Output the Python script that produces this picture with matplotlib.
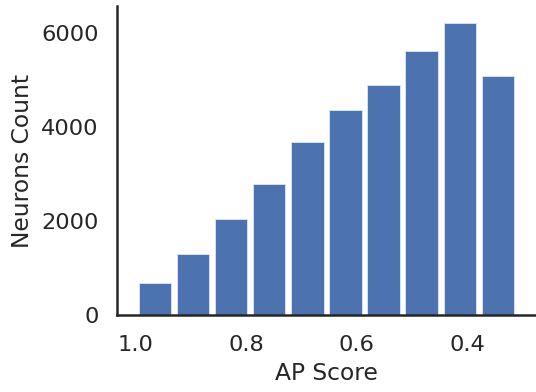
import numpy as np
import matplotlib
matplotlib.use("Agg")
from matplotlib import pyplot as plt

# histogram of AP scores, 10 bins; counts listed from highest score bin to lowest
score_min = 0.31
score_max = 1.0
counts = [687, 1304, 2036, 2787, 3674, 4355, 4900, 5623, 6219, 5085]
xticks = [1.0, 0.8, 0.6, 0.4]
xticklabels = ["1.0", "0.8", "0.6", "0.4"]
yticks = [0, 2000, 4000, 6000]

text_col = "#262626"
plt.rcParams['font.family'] = ['DejaVu Sans']

fig = plt.figure(figsize=(5.36, 3.92), dpi=100)
ax = fig.add_axes([0.218, 0.196, 0.782, 0.789])

edges = np.linspace(score_min, score_max, len(counts) + 1)
centers = (edges[:-1] + edges[1:]) / 2
ax.hist(centers[::-1], bins=edges, weights=counts, rwidth=0.85,
        color="#4C72B0", edgecolor="#dfe6f2", linewidth=0.6)

ax.set_xlim(score_max + 0.0345, score_min - 0.0345)
ax.set_ylim(0, 6575)
ax.set_xticks(xticks)
ax.set_xticklabels(xticklabels)
ax.set_yticks(yticks)

for side in ["top", "right"]:
    ax.spines[side].set_visible(False)
for side in ["left", "bottom"]:
    ax.spines[side].set_color(text_col)
    ax.spines[side].set_linewidth(1.8)

ax.tick_params(axis="both", length=0, labelsize=16.2, labelcolor=text_col)
ax.tick_params(axis="x", pad=14)
ax.tick_params(axis="y", pad=13)
ax.set_xlabel("AP Score", fontsize=16.8, color=text_col, labelpad=5)
ax.set_ylabel("Neurons Count", fontsize=16.8, color=text_col, labelpad=5)

fig.savefig("out.png", dpi=100)
